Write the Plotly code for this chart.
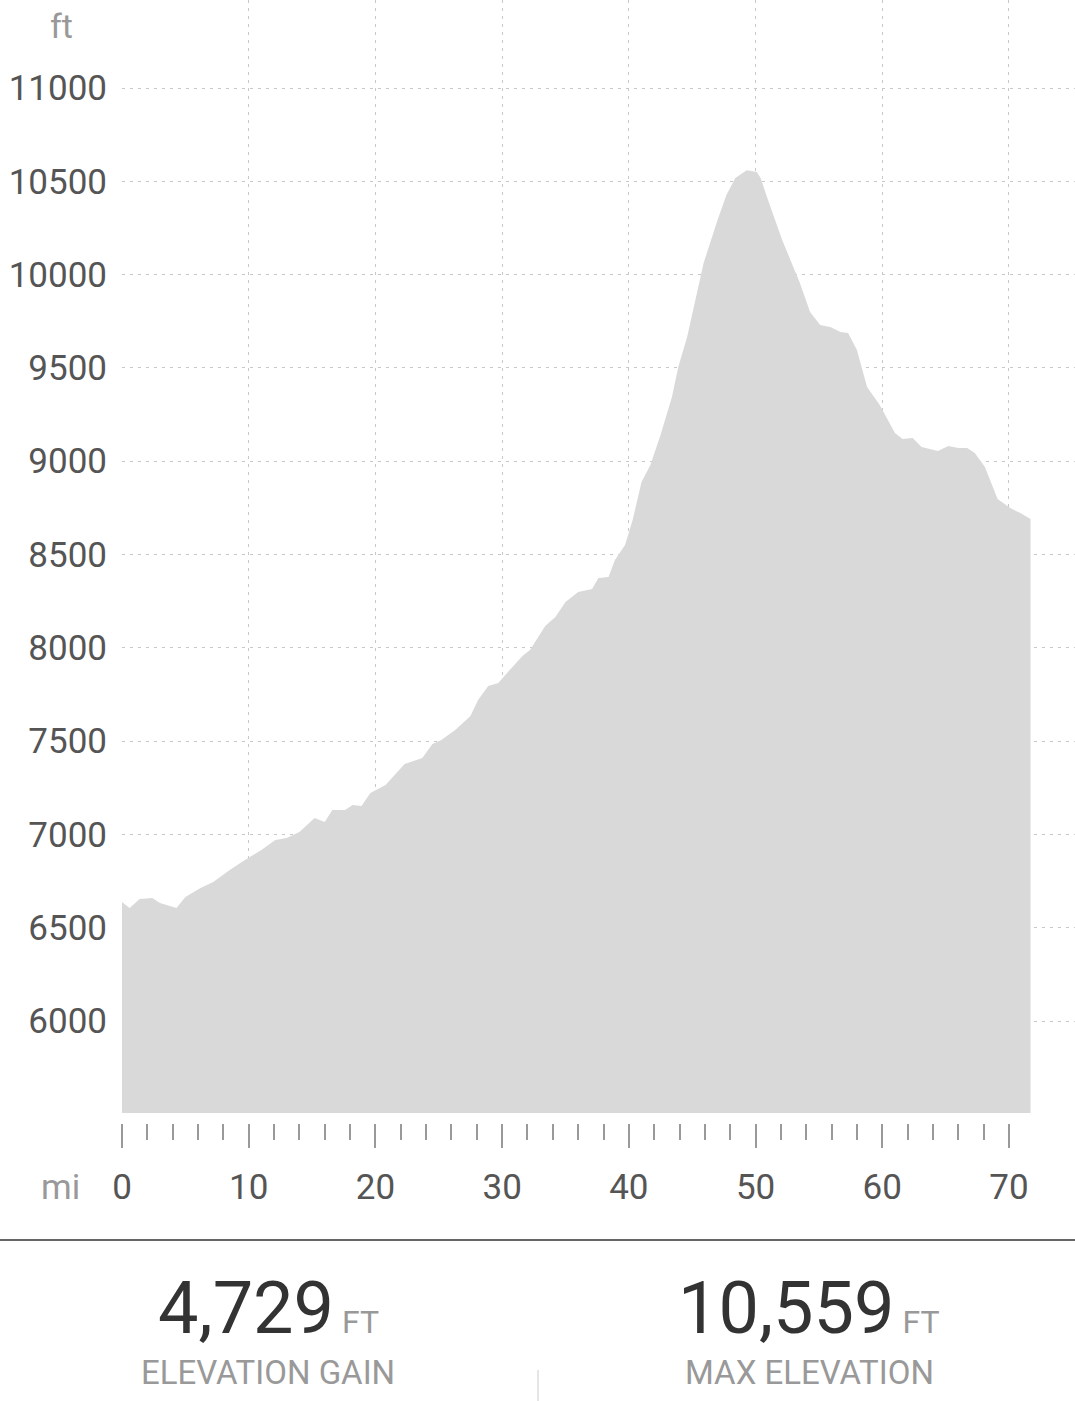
import plotly.graph_objects as go

# Distance (mi) and elevation (ft)
miles = [0.0, 0.6, 1.4, 2.4, 3.0, 4.3, 5.0, 6.2, 7.2, 8.5, 9.7, 11.0, 12.1, 13.0, 14.0,
         15.2, 16.0, 16.6, 17.6, 18.2, 18.9, 19.6, 20.8, 22.3, 23.7, 24.5, 25.2, 26.3,
         27.5, 28.1, 28.9, 29.7, 30.6, 31.6, 32.2, 33.4, 34.2, 35.0, 36.0, 37.1, 37.6,
         38.4, 38.9, 39.7, 40.3, 41.0, 41.7, 42.5, 43.4, 43.9, 44.6, 45.4, 45.9, 47.0,
         47.7, 48.4, 49.3, 50.1, 50.4, 50.9, 52.1, 53.5, 54.3, 55.1, 55.9, 56.7, 57.3,
         58.0, 58.8, 59.8, 61.0, 61.6, 62.4, 63.1, 64.4, 65.2, 66.0, 66.7, 67.3, 68.1,
         69.1, 70.1, 70.9, 71.7]
elevation = [6638, 6606, 6654, 6659, 6632, 6606, 6665, 6713, 6745, 6809, 6863, 6916, 6970,
             6981, 7013, 7088, 7066, 7131, 7131, 7158, 7152, 7222, 7265, 7377, 7409, 7484,
             7506, 7559, 7634, 7720, 7795, 7811, 7881, 7956, 7988, 8117, 8165, 8245, 8299,
             8315, 8374, 8379, 8471, 8551, 8685, 8889, 8980, 9140, 9344, 9505, 9666, 9917,
             10062, 10293, 10427, 10518, 10559, 10550, 10518, 10416, 10185, 9955, 9800, 9730,
             9719, 9692, 9687, 9596, 9398, 9301, 9151, 9119, 9124, 9076, 9055, 9081, 9071,
             9071, 9044, 8969, 8797, 8749, 8722, 8690]

y_ticks = [6000, 6500, 7000, 7500, 8000, 8500, 9000, 9500, 10000, 10500, 11000]
x_major = [0, 10, 20, 30, 40, 50, 60, 70]
x_minor = [v for v in range(2, 70, 2) if v % 10 != 0]
x_grid = [10, 20, 30, 40, 50, 60, 70]

stat_values = ["4,729", "10,559"]
stat_units = ["FT", "FT"]
stat_labels = ["ELEVATION GAIN", "MAX ELEVATION"]

W, H = 1075, 1401
FONT = "Roboto"

def px(x):
    return x / W

def py(y):
    return 1 - y / H

fig = go.Figure()
fig.add_trace(go.Scatter(
    x=miles, y=elevation, mode="lines", fill="tozeroy",
    fillcolor="#d9d9d9", line=dict(width=0, color="#d9d9d9"),
    hoverinfo="skip", showlegend=False))
fig.add_trace(go.Scatter(
    x=miles, y=elevation, mode="lines", xaxis="x2",
    line=dict(width=0, color="rgba(0,0,0,0)"),
    hoverinfo="skip", showlegend=False))

grid = dict(gridcolor="#c8c8c8", gridwidth=1, griddash="3px,5px")

fig.update_layout(
    template="none",
    width=W, height=H,
    margin=dict(l=0, r=0, t=0, b=0, pad=0, autoexpand=False),
    paper_bgcolor="white", plot_bgcolor="white",
    font=dict(family=FONT, color="#555"),
    showlegend=False,
    xaxis=dict(domain=[px(122), 1], range=[0, 75.21], tickmode="array",
               tickvals=x_grid, showticklabels=False, ticks="", showgrid=True,
               zeroline=False, showline=False, fixedrange=True, automargin=False, **grid),
    xaxis2=dict(overlaying="x", anchor="free", position=py(1123), side="bottom",
                range=[0, 75.21], tickmode="array", tickvals=x_major,
                ticktext=[str(v) for v in x_major],
                ticks="outside", ticklen=24, tickwidth=1.5, tickcolor="#999",
                minor=dict(tickmode="array", tickvals=x_minor, ticks="outside",
                           ticklen=16, tickwidth=1.5, tickcolor="#999", showgrid=False),
                showgrid=False, zeroline=False, showline=False, automargin=False,
                fixedrange=True,
                tickfont=dict(family=FONT, size=35, color="#555"),
                ticklabelstandoff=9),
    yaxis=dict(domain=[py(1113), 1], range=[5507, 11471.6], tickmode="array",
               tickvals=y_ticks, ticktext=[str(v) for v in y_ticks], ticks="",
               showgrid=True, zeroline=False, showline=False, automargin=False,
               fixedrange=True,
               tickfont=dict(family=FONT, size=35, color="#555"),
               ticklabelstandoff=14, **grid),
)

annotations = [
    dict(text="ft", x=px(61), y=py(26), xref="paper", yref="paper",
         xanchor="center", yanchor="middle",
         showarrow=False, font=dict(family=FONT, size=34, color="#999")),
    dict(text="mi", x=px(60), y=py(1187), xref="paper", yref="paper",
         xanchor="center", yanchor="middle",
         showarrow=False, font=dict(family=FONT, size=35, color="#999")),
]
centers = [268, 809]
for cx, val, unit, lab in zip(centers, stat_values, stat_units, stat_labels):
    annotations.append(dict(
        text=f"<span style='font-size:72px;color:#333'>{val}</span>"
             f"<span style='font-size:32px;color:#999'> {unit}</span>",
        x=px(cx), y=py(1308), xref="paper", yref="paper", showarrow=False,
        xanchor="center", yanchor="middle", font=dict(family=FONT, size=72, color="#333")))
    annotations.append(dict(
        text=lab, x=px(cx), y=py(1372), xref="paper", yref="paper", showarrow=False,
        xanchor="center", yanchor="middle", font=dict(family=FONT, size=33, color="#999")))
fig.update_layout(annotations=annotations)

fig.update_layout(shapes=[
    dict(type="line", xref="paper", yref="paper", x0=0, x1=1, y0=py(1240), y1=py(1240),
         line=dict(color="#333", width=1.5)),
    dict(type="line", xref="paper", yref="paper", x0=px(538), x1=px(538), y0=py(1370), y1=0,
         line=dict(color="#ccc", width=1)),
])

fig.write_html("out.html", config={"displayModeBar": False},
               post_script="document.body.style.margin='0';")
